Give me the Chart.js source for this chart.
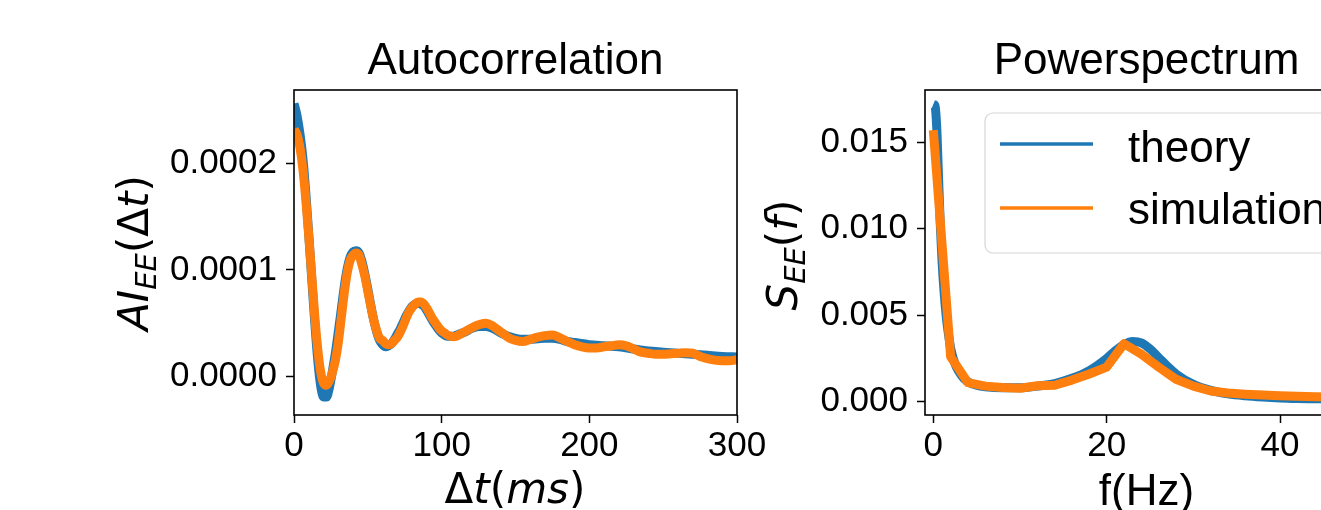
<!DOCTYPE html>
<html>
<head>
<meta charset="utf-8">
<script src="https://cdn.jsdelivr.net/npm/chart.js@4/dist/chart.umd.min.js"></script>
<style>
html,body{margin:0;padding:0;background:#fff;overflow:hidden;width:1321px;height:510px;}
#wrap{position:relative;width:1321px;height:510px;overflow:hidden;background:#fff;}
#c1{position:absolute;left:0;top:0;width:800px;height:510px;}
#c2{position:absolute;left:740px;top:0;width:700px;height:510px;}
</style>
</head>
<body>
<div id="wrap">
<canvas id="c1" width="800" height="510"></canvas>
<canvas id="c2" width="700" height="510"></canvas>
</div>
<script>
// ---------------- DATA ----------------
const titleLeft = 'Autocorrelation';
const titleRight = 'Powerspectrum';
const seriesNames = ['theory', 'simulation'];

// Autocorrelation: simulation
const acSimT = [0,2,4,6,8,10,12,14,16,18,20,22,24,26,28,30,32,34,36,38,40,42,44,46,48,50,52,54,56,58,60,62,64,66,68,70,72,74,76,78,80,82,84,86,88,90,92,94,96,98,100,102,104,106,108,110,114,118,122,126,130,134,138,142,146,150,155,160,165,170,175,180,185,190,195,200,205,210,215,220,225,230,235,240,245,250,255,260,265,270,275,280,285,290,295,300];
const acSimV = [0.000232,0.000227,0.000215,0.000195,0.000166,0.000132,0.000095,0.000058,0.000027,0.000005,-0.000006,-0.000008,-0.000004,0.000004,0.000015,0.000032,0.000055,0.000078,0.000097,0.000109,0.000114,0.000116,0.000114,0.000105,0.000094,0.000080,0.000066,0.000053,0.000043,0.000036,0.000034,0.000031,0.000030,0.000031,0.000034,0.000037,0.000042,0.000048,0.000055,0.000061,0.000065,0.000068,0.000070,0.000070,0.000068,0.000064,0.000059,0.000054,0.000050,0.000046,0.000043,0.000041,0.000039,0.000038,0.0000375,0.000038,0.000041,0.000044,0.000047,0.000049,0.000050,0.000048,0.000044,0.000040,0.000036,0.000034,0.000033,0.000035,0.000037,0.0000385,0.000039,0.0000365,0.000033,0.000030,0.000028,0.000027,0.000027,0.000028,0.000029,0.000030,0.000029,0.000026,0.000023,0.000022,0.000021,0.000021,0.0000215,0.000022,0.0000225,0.000022,0.000019,0.000017,0.0000155,0.000015,0.000015,0.000016];

// Autocorrelation: theory
const acThT = [0,2,4,6,8,10,12,14,16,18,20,22,24,26,28,30,32,34,36,38,40,42,44,46,48,50,52,54,56,58,60,62,64,66,68,70,72,74,76,78,80,82,84,86,88,90,92,94,96,98,100,104,108,112,116,120,125,130,135,140,145,150,155,160,165,170,175,180,185,190,200,210,220,230,240,250,260,270,280,290,300];
const acThV = [0.000256,0.000245,0.000228,0.000205,0.000172,0.000133,0.000092,0.000052,0.000017,-0.000008,-0.000019,-0.000019,-0.000010,0.000005,0.000022,0.000042,0.000063,0.000084,0.000101,0.000112,0.000117,0.000118,0.000116,0.000108,0.000096,0.000082,0.000067,0.000053,0.000042,0.000034,0.000030,0.000028,0.000029,0.000031,0.000035,0.000040,0.000045,0.000051,0.000057,0.000062,0.000066,0.000068,0.000069,0.000068,0.000066,0.000062,0.000057,0.000052,0.000048,0.000044,0.000041,0.000038,0.000038,0.000040,0.000042,0.000045,0.000047,0.000047,0.000045,0.000041,0.000038,0.000036,0.000035,0.000035,0.0000355,0.000036,0.000036,0.000035,0.000033,0.000032,0.000030,0.000029,0.000028,0.000026,0.000024,0.000023,0.000022,0.000021,0.000020,0.000019,0.0000185];

// Power spectrum: simulation
const psSimF = [0,2,4,6,8,10,12,14,16,18,20,22,24,26,28,30,32,34,36,38,40,42,44,46,48,50];
const psSimV = [0.0157,0.0026,0.0011,0.0009,0.00082,0.00078,0.00092,0.00095,0.00125,0.0016,0.0020,0.00335,0.00275,0.0020,0.0013,0.0009,0.00062,0.0005,0.00043,0.00038,0.00034,0.00031,0.00029,0.00027,0.00025,0.00024];

// Power spectrum: theory
const psThF = [0,0.2,0.4,0.6,0.8,1.0,1.25,1.5,1.75,2,2.5,3,3.5,4,5,6,8,10,12,14,16,18,20,21,22,23,24,25,26,27,28,30,32,34,36,38,40,42,44,46,48,50];
const psThV = [0.0172,0.0171,0.0158,0.0130,0.0103,0.0082,0.0063,0.0049,0.0039,0.0031,0.0022,0.0017,0.00135,0.00115,0.00095,0.00086,0.0008,0.0008,0.0009,0.00105,0.00135,0.0018,0.0025,0.00295,0.0033,0.00348,0.0034,0.00305,0.00255,0.00205,0.0016,0.0010,0.00065,0.00045,0.00034,0.00027,0.00022,0.00019,0.00017,0.00015,0.00014,0.00013];

// Tick labels
const acXTicks = [0,100,200,300];
const acYTicks = [0,0.0001,0.0002];
const psXTicks = [0,20,40];
const psYTicks = [0,0.005,0.010,0.015];

// ---------------- STYLE ----------------
const BLUE = '#1f77b4', ORANGE = '#ff7f0e';
const SANS = '"Liberation Sans", Arial, sans-serif';
const MATH = '"DejaVu Sans", sans-serif';
const BIG = 44, MBIG = 42, TICK = 35, LW = 9;

const pairs = (xs, ys) => xs.map((x, i) => ({x, y: ys[i]}));

function drawMath(ctx, segs, bx, by, rot, size) {
  ctx.save();
  ctx.translate(bx, by);
  ctx.rotate(rot);
  const fontFor = s => `${s.i ? 'italic ' : ''}${s.sub ? Math.round(size * 0.7) : size}px ${MATH}`;
  let total = 0; const ws = [];
  segs.forEach(s => { ctx.font = fontFor(s); const w = ctx.measureText(s.t).width; ws.push(w); total += w; });
  let x = -total / 2;
  ctx.fillStyle = '#000';
  ctx.textBaseline = 'alphabetic';
  ctx.textAlign = 'left';
  segs.forEach((s, i) => { ctx.font = fontFor(s); ctx.fillText(s.t, x, s.sub ? size * 0.2 : 0); x += ws[i]; });
  ctx.restore();
}

function frameAndTitle(title) {
  return {
    id: 'frame_' + title,
    afterDatasetsDraw(chart) {
      const {ctx, chartArea: a} = chart;
      ctx.save();
      ctx.strokeStyle = '#000';
      ctx.lineWidth = 1.6;
      ctx.strokeRect(a.left, a.top, a.right - a.left, a.bottom - a.top);
      ctx.fillStyle = '#000';
      ctx.font = `${BIG}px ${SANS}`;
      ctx.textAlign = 'center';
      ctx.textBaseline = 'alphabetic';
      ctx.fillText(title, (a.left + a.right) / 2, 74);
      ctx.restore();
    }
  };
}

function axisOpts(min, max, tickVals, fmt, isX, size) {
  return {
    type: 'linear', min, max,
    afterBuildTicks: s => { s.ticks = tickVals.map(v => ({value: v})); },
    afterFit: s => { if (isX) s.height = size; else s.width = size; },
    ticks: {
      color: '#000', font: {family: SANS, size: TICK},
      padding: isX ? 2 : 9, maxRotation: 0, autoSkip: false,
      callback: v => fmt(v)
    },
    grid: {drawOnChartArea: false, drawTicks: true, tickLength: 8, tickWidth: 1.5, tickColor: '#000'},
    border: {display: false}
  };
}

const common = {
  responsive: false, animation: false, devicePixelRatio: 1,
  plugins: {legend: {display: false}, tooltip: {enabled: false}, title: {display: false}}
};

// ---------------- LEFT: Autocorrelation ----------------
new Chart(document.getElementById('c1'), {
  type: 'line',
  data: {
    datasets: [
      {label: seriesNames[0], data: pairs(acThT, acThV), borderColor: BLUE, borderWidth: LW, pointRadius: 0, cubicInterpolationMode: 'monotone', borderJoinStyle: 'round', order: 1},
      {label: seriesNames[1], data: pairs(acSimT, acSimV), borderColor: ORANGE, borderWidth: LW, pointRadius: 0, cubicInterpolationMode: 'monotone', borderJoinStyle: 'round', order: 0}
    ]
  },
  options: {
    ...common,
    layout: {padding: {left: 0, top: 90, right: 63, bottom: 0}},
    scales: {
      x: axisOpts(0, 300, acXTicks, v => String(v), true, 95),
      y: axisOpts(-0.0000359, 0.0002687, acYTicks, v => v.toFixed(4), false, 294)
    }
  },
  plugins: [frameAndTitle(titleLeft), {
    id: 'labelsLeft',
    afterDraw(chart) {
      const ctx = chart.ctx;
      drawMath(ctx, [{t: 'AI', i: 1}, {t: 'EE', i: 1, sub: 1}, {t: '('}, {t: 'Δ'}, {t: 't', i: 1}, {t: ')'}], 148, 253, -Math.PI / 2, MBIG);
      drawMath(ctx, [{t: 'Δ'}, {t: 't', i: 1}, {t: '('}, {t: 'ms', i: 1}, {t: ')'}], 515, 503, 0, MBIG);
    }
  }]
});

// ---------------- RIGHT: Powerspectrum ----------------
new Chart(document.getElementById('c2'), {
  type: 'line',
  data: {
    datasets: [
      {label: seriesNames[0], data: pairs(psThF, psThV), borderColor: BLUE, borderWidth: LW, pointRadius: 0, cubicInterpolationMode: 'monotone', borderJoinStyle: 'round', order: 1},
      {label: seriesNames[1], data: pairs(psSimF, psSimV), borderColor: ORANGE, borderWidth: LW, pointRadius: 0, tension: 0, borderJoinStyle: 'round', order: 0}
    ]
  },
  options: {
    ...common,
    layout: {padding: {left: 0, top: 90, right: 72, bottom: 0}},
    scales: {
      x: axisOpts(-0.958, 50.15, psXTicks, v => String(v), true, 95),
      y: axisOpts(-0.00077, 0.018024, psYTicks, v => v.toFixed(3), false, 185)
    }
  },
  plugins: [frameAndTitle(titleRight), {
    id: 'labelsRight',
    afterDraw(chart) {
      const ctx = chart.ctx;
      drawMath(ctx, [{t: 'S', i: 1}, {t: 'EE', i: 1, sub: 1}, {t: '('}, {t: 'f', i: 1}, {t: ')'}], 57, 255, -Math.PI / 2, MBIG);
      ctx.save();
      ctx.fillStyle = '#000';
      ctx.font = `${BIG}px ${SANS}`;
      ctx.textAlign = 'center';
      ctx.textBaseline = 'alphabetic';
      const a = chart.chartArea;
      ctx.fillText('f(Hz)', (a.left + a.right) / 2, 505);
      // legend
      const lx = 245, ly = 113, lw = 375, lh = 140, r = 8;
      ctx.beginPath();
      ctx.roundRect(lx, ly, lw, lh, r);
      ctx.fillStyle = 'rgba(255,255,255,0.8)';
      ctx.fill();
      ctx.strokeStyle = '#d6d6d6';
      ctx.lineWidth = 1.2;
      ctx.stroke();
      const ys = [144, 208], bases = [162, 224];
      chart.data.datasets.forEach((ds, i) => {
        ctx.beginPath();
        ctx.moveTo(260, ys[i]); ctx.lineTo(353, ys[i]);
        ctx.strokeStyle = ds.borderColor; ctx.lineWidth = 3.5; ctx.lineCap = 'butt';
        ctx.stroke();
        ctx.fillStyle = '#000';
        ctx.textAlign = 'left';
        ctx.fillText(ds.label, 388, bases[i]);
      });
      ctx.restore();
    }
  }]
});
</script>
</body>
</html>
